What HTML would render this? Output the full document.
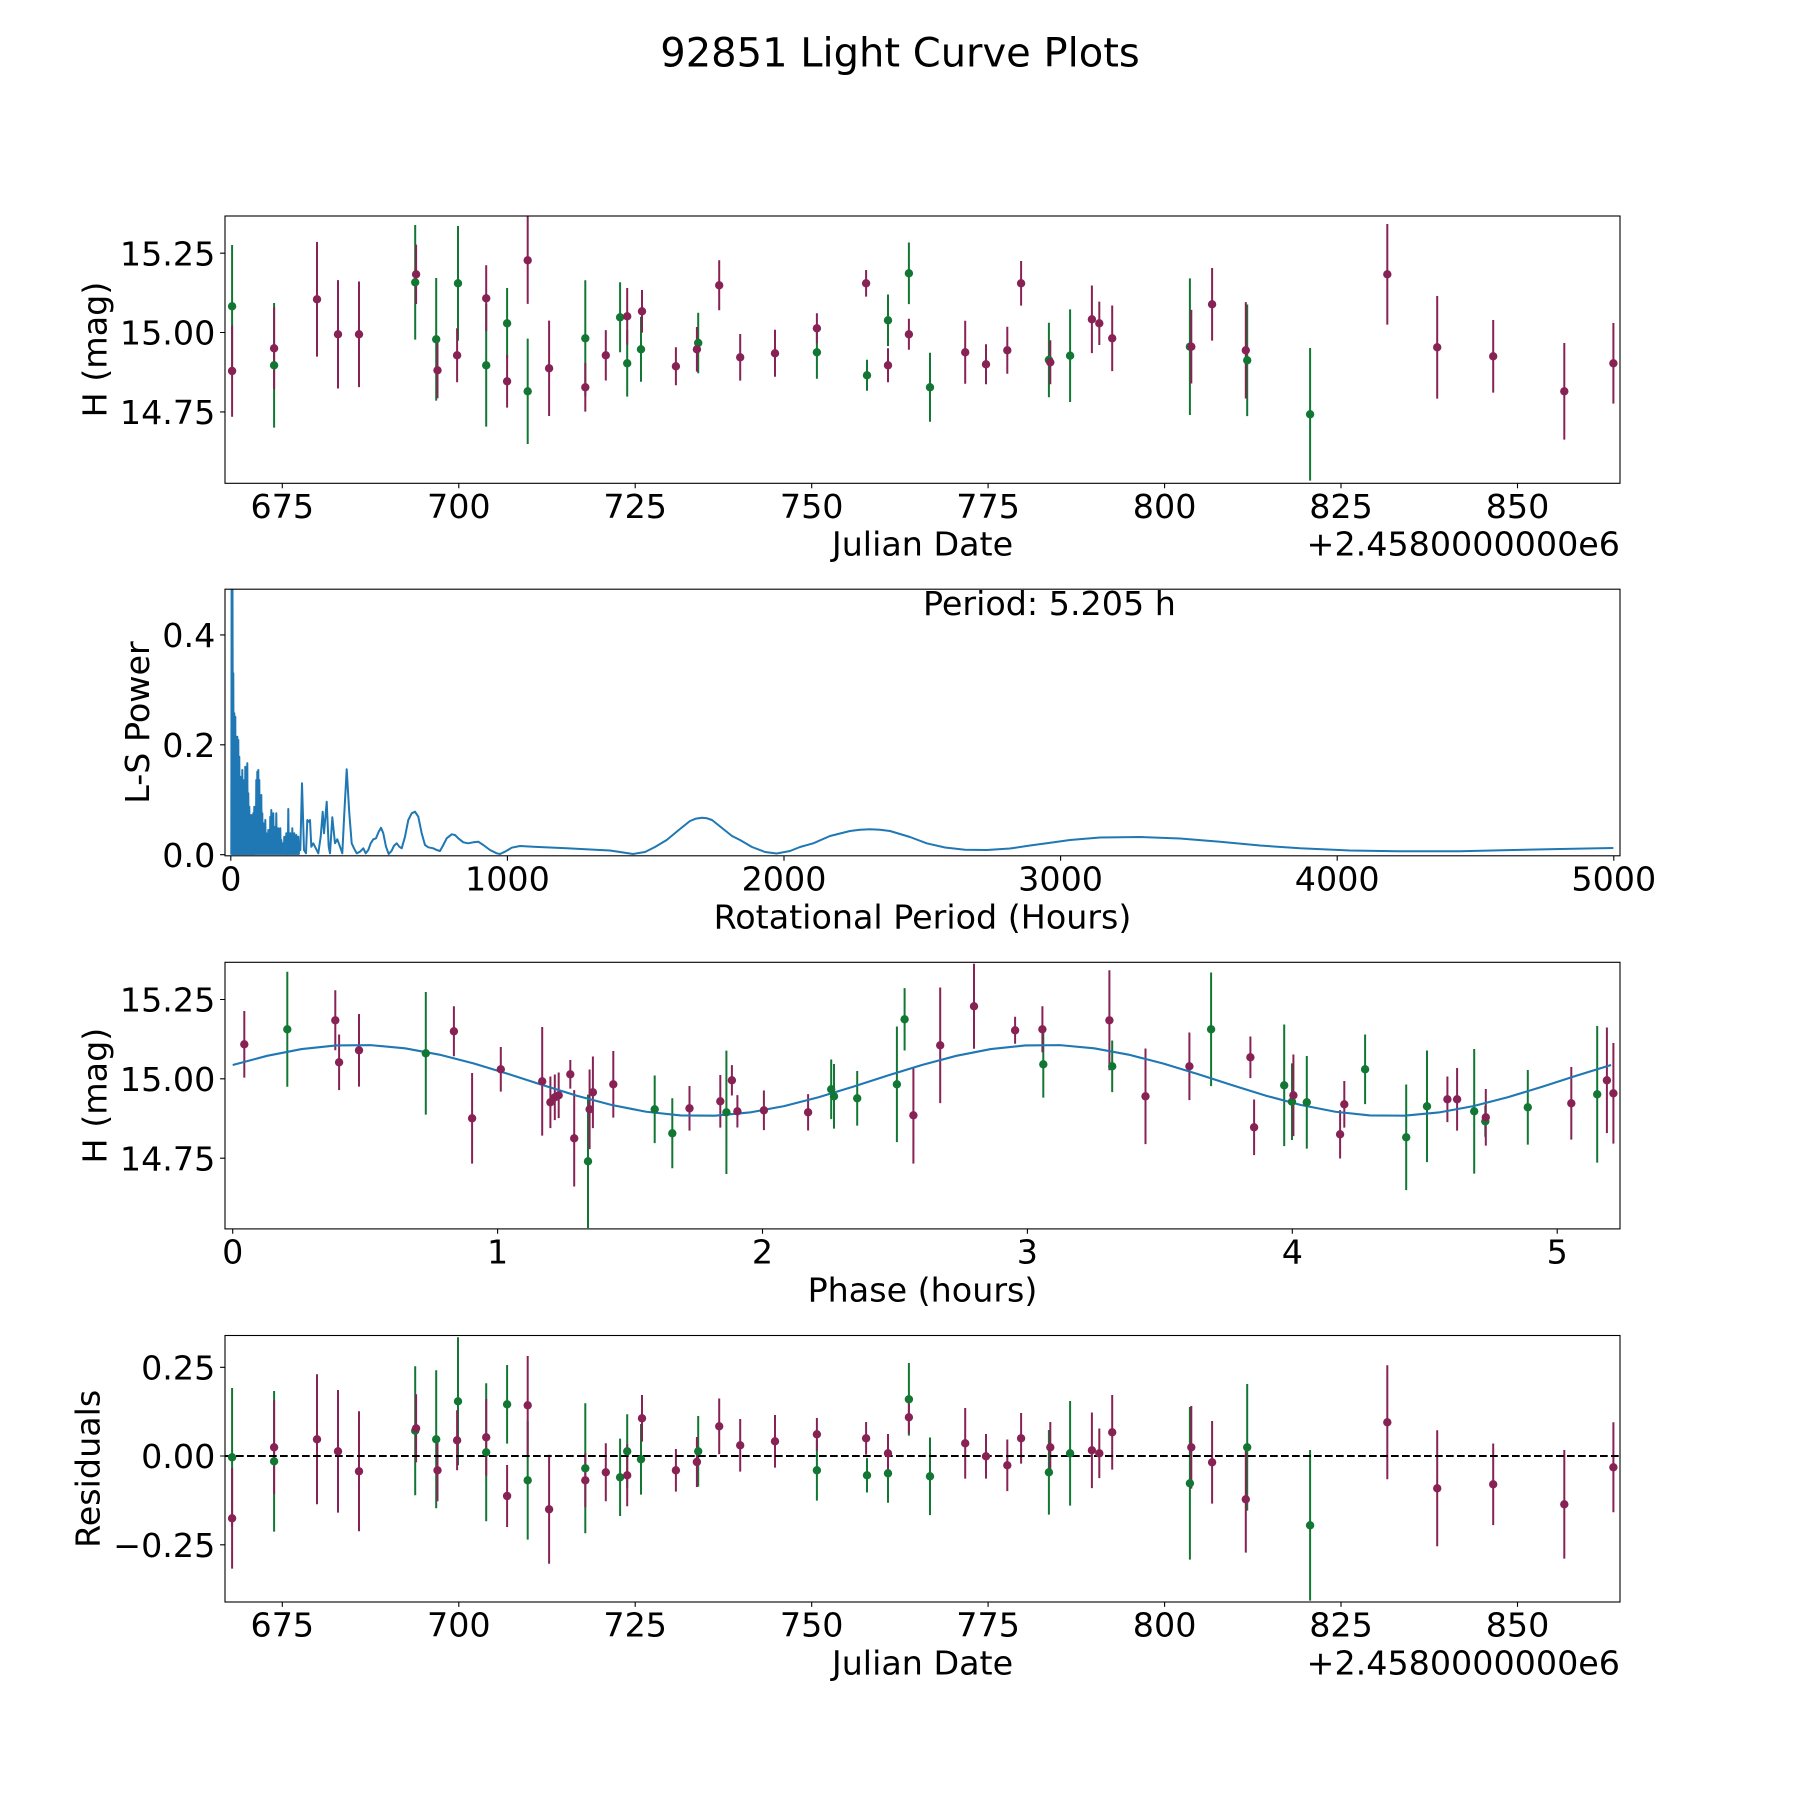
<!DOCTYPE html>
<html><head><meta charset="utf-8"><style>html,body{margin:0;padding:0;background:#fff}svg{display:block}</style></head>
<body>
<svg width="1800" height="1800" viewBox="0 0 1800 1800" xmlns="http://www.w3.org/2000/svg" font-family="'DejaVu Sans','Liberation Sans',sans-serif" fill="#000">
<rect width="1800" height="1800" fill="#fff"/>
<defs>
<clipPath id="c1"><rect x="225" y="216" width="1395" height="267.3"/></clipPath>
<clipPath id="c2"><rect x="225" y="589.2" width="1395" height="266.6"/></clipPath>
<clipPath id="c3"><rect x="225" y="962.3" width="1395" height="266.6"/></clipPath>
<clipPath id="c4"><rect x="225" y="1335.5" width="1395" height="266.5"/></clipPath>
</defs>

<text x="900" y="66.7" font-size="40" text-anchor="middle">92851 Light Curve Plots</text>

<!-- ============ AXES 1 ============ -->
<g clip-path="url(#c1)" stroke-width="2" fill="none">
<path stroke="#117733" d="M232.1,245V367.6M274.1,303V427.6M415.2,225V339.6M436.2,278V400.6M458,226V340.6M486.2,304V426.6M507.1,288V358.6M527.7,338.6V444M585.3,280.3V396.3M620.1,282.3V352.3M627.2,330V396.6M641,316.8V381.8M698.2,312.7V373.3M816.9,325.9V378.7M867,359.8V390.8M888,294.5V346.1M908.9,242.5V304.1M930,352.8V421.8M1048.9,322.7V397.3M1070.1,309.4V402M1189.9,278.4V415M1247.2,304.5V416.1M1310.1,348V480.6"/>
<path stroke="#882255" d="M232.1,325.3V416.7M274.1,307.3V389.3M317,242V356.6M338,280.1V388.5M359,281.5V387.1M416.1,244.6V304M437.5,342.3V398.3M457.1,328.3V382.3M486.2,265.3V331.3M507.1,355V407.6M527.7,214V303.9M549.1,320.6V416M585.3,363V411.6M605.8,330.1V380.5M627.2,288V344.6M642,290V332.6M675.9,347.3V385.3M696.9,327V371.6M719.2,260.3V310.3M740.2,334V380.6M775,329.8V376.8M816.9,313.3V343.3M866.1,270V296.6M888,348.3V382.3M908.9,318.8V349.8M965.2,320.8V383.8M986,344.3V384.3M1007.3,326.8V373.8M1021.1,261V305.6M1050.3,340.3V384.3M1091.9,285.5V353.1M1099.3,301.6V345M1112.2,305.5V371.1M1191.3,309.9V383.5M1212.1,268V340.6M1245.8,302.1V398.5M1387.3,224V324.6M1437.2,296V398.6M1493.2,320V392.6M1564.3,343V439.6M1613.4,323V403.6"/>
</g>
<g clip-path="url(#c1)" fill="#117733">
<circle cx="232.1" cy="306.3" r="4.2"/><circle cx="274.1" cy="365.3" r="4.2"/><circle cx="415.2" cy="282.3" r="4.2"/><circle cx="436.2" cy="339.3" r="4.2"/><circle cx="458" cy="283.3" r="4.2"/><circle cx="486.2" cy="365.3" r="4.2"/><circle cx="507.1" cy="323.3" r="4.2"/><circle cx="527.7" cy="391.3" r="4.2"/><circle cx="585.3" cy="338.3" r="4.2"/><circle cx="620.1" cy="317.3" r="4.2"/><circle cx="627.2" cy="363.3" r="4.2"/><circle cx="641" cy="349.3" r="4.2"/><circle cx="698.2" cy="343" r="4.2"/><circle cx="816.9" cy="352.3" r="4.2"/><circle cx="867" cy="375.3" r="4.2"/><circle cx="888" cy="320.3" r="4.2"/><circle cx="908.9" cy="273.3" r="4.2"/><circle cx="930" cy="387.3" r="4.2"/><circle cx="1048.9" cy="360" r="4.2"/><circle cx="1070.1" cy="355.7" r="4.2"/><circle cx="1189.9" cy="346.7" r="4.2"/><circle cx="1247.2" cy="360.3" r="4.2"/><circle cx="1310.1" cy="414.3" r="4.2"/>
</g>
<g clip-path="url(#c1)" fill="#882255">
<circle cx="232.1" cy="371" r="4.2"/><circle cx="274.1" cy="348.3" r="4.2"/><circle cx="317" cy="299.3" r="4.2"/><circle cx="338" cy="334.3" r="4.2"/><circle cx="359" cy="334.3" r="4.2"/><circle cx="416.1" cy="274.3" r="4.2"/><circle cx="437.5" cy="370.3" r="4.2"/><circle cx="457.1" cy="355.3" r="4.2"/><circle cx="486.2" cy="298.3" r="4.2"/><circle cx="507.1" cy="381.3" r="4.2"/><circle cx="527.7" cy="260.3" r="4.2"/><circle cx="549.1" cy="368.3" r="4.2"/><circle cx="585.3" cy="387.3" r="4.2"/><circle cx="605.8" cy="355.3" r="4.2"/><circle cx="627.2" cy="316.3" r="4.2"/><circle cx="642" cy="311.3" r="4.2"/><circle cx="675.9" cy="366.3" r="4.2"/><circle cx="696.9" cy="349.3" r="4.2"/><circle cx="719.2" cy="285.3" r="4.2"/><circle cx="740.2" cy="357.3" r="4.2"/><circle cx="775" cy="353.3" r="4.2"/><circle cx="816.9" cy="328.3" r="4.2"/><circle cx="866.1" cy="283.3" r="4.2"/><circle cx="888" cy="365.3" r="4.2"/><circle cx="908.9" cy="334.3" r="4.2"/><circle cx="965.2" cy="352.3" r="4.2"/><circle cx="986" cy="364.3" r="4.2"/><circle cx="1007.3" cy="350.3" r="4.2"/><circle cx="1021.1" cy="283.3" r="4.2"/><circle cx="1050.3" cy="362.3" r="4.2"/><circle cx="1091.9" cy="319.3" r="4.2"/><circle cx="1099.3" cy="323.3" r="4.2"/><circle cx="1112.2" cy="338.3" r="4.2"/><circle cx="1191.3" cy="346.7" r="4.2"/><circle cx="1212.1" cy="304.3" r="4.2"/><circle cx="1245.8" cy="350.3" r="4.2"/><circle cx="1387.3" cy="274.3" r="4.2"/><circle cx="1437.2" cy="347.3" r="4.2"/><circle cx="1493.2" cy="356.3" r="4.2"/><circle cx="1564.3" cy="391.3" r="4.2"/><circle cx="1613.4" cy="363.3" r="4.2"/>
</g>
<rect x="225" y="216" width="1395" height="267.3" fill="none" stroke="#000" stroke-width="1.1"/>
<path stroke="#000" stroke-width="1.1" d="M282.3,483.3v4.9M458.8,483.3v4.9M635.2,483.3v4.9M811.7,483.3v4.9M988.1,483.3v4.9M1164.6,483.3v4.9M1341,483.3v4.9M1517.5,483.3v4.9M225,253.2h-4.9M225,332.5h-4.9M225,411.9h-4.9"/>
<g font-size="33.33" text-anchor="middle">
<text x="282.3" y="518">675</text><text x="458.8" y="518">700</text><text x="635.2" y="518">725</text><text x="811.7" y="518">750</text><text x="988.1" y="518">775</text><text x="1164.6" y="518">800</text><text x="1341" y="518">825</text><text x="1517.5" y="518">850</text>
<text x="922.5" y="555.5">Julian Date</text>
</g>
<g font-size="33.33" text-anchor="end">
<text x="1620" y="555.5">+2.4580000000e6</text>
<text x="215.3" y="265.4">15.25</text><text x="215.3" y="344.7">15.00</text><text x="215.3" y="424.1">14.75</text>
</g>
<text font-size="33.33" text-anchor="middle" transform="translate(106.4,349.5) rotate(-90)">H (mag)</text>

<!-- ============ AXES 2 (periodogram) ============ -->
<g clip-path="url(#c2)" fill="none" stroke="#1f77b4" stroke-width="2" stroke-linejoin="round">
<path d="M231.3,854.7 L231.6,590 L232.1,854 L232.5,590 L233,854 L233.3,673.3 L233.8,854 L234.3,713.3 L234.8,854 L235.3,716.7 L235.8,854 L236.3,736.7 L236.8,854 L237.3,736.7 L237.8,854 L238.3,740 L238.8,854 L239.3,756.7 L239.8,854 L240.3,776.7 L240.8,854 L241.3,780 L241.8,854 L242.3,770 L242.8,854 L243.3,806.7 L243.8,854 L244.3,780 L244.8,854 L245.3,766.7 L245.8,854 L246.3,786.7 L246.8,854 L247.3,763.3 L247.8,854 L248.3,793.3 L248.8,854 L249.3,806.7 L249.8,854 L250.3,816.7 L250.8,854 L251.3,815 L251.8,854 L252.3,823.3 L252.8,854 L253.3,813.3 L253.8,854 L254.3,806.7 L254.8,854 L255.3,820 L255.8,854 L256.3,780 L256.8,854 L257.3,771.7 L257.8,854 L258.3,770 L258.8,854 L259.3,780 L259.8,854 L260.3,796.7 L260.8,854 L261.3,795 L261.8,854 L262.3,813.3 L262.8,854 L263.3,823.3 L263.8,854 L264.3,826.7 L264.8,854 L265.3,820 L265.8,854 L266.3,833.3 L266.8,854 L267.3,840 L267.8,854 L268.3,830 L268.8,854 L269.3,836.7 L269.8,854 L270.3,816.7 L270.8,854 L271.3,810 L271.8,854 L272.3,820 L272.8,854 L273.3,813.3 L273.8,854 L274.3,826.7 L274.8,854 L275.3,836.7 L275.8,854 L276.3,813.3 L276.8,854 L277.3,833.3 L277.8,854 L278.3,828.3 L278.8,854 L279.3,840 L279.8,854 L280.3,828.3 L280.8,854 L281.3,840 L281.8,854 L282.3,843.3 L282.8,854 L283.3,843.3 L283.8,854 L284.3,836.7 L284.8,854 L285.3,836.7 L285.8,854 L286.3,833.3 L286.8,854 L287.3,846.7 L287.8,854 L288.3,809 L288.8,854 L289.3,833.3 L289.8,854 L290.3,833.3 L290.8,854 L291.3,835 L291.8,854 L292.3,828.3 L292.8,854 L293.3,836.7 L293.8,854 L294.3,833.3 L294.8,854 L295.3,836.7 L295.8,854 L296.3,835 L296.8,854 L297.3,836.7 L297.8,854 L298.3,836.7 L298.8,854 L299.3,846.7 L300.3,850 L302,783.3 L304,850 L306,853.3 L307.3,820 L308.7,821.7 L310,820 L311.3,846.7 L313.3,843.3 L315,846.7 L318.3,853.3 L320.7,836.7 L322.7,811.7 L324,833.3 L326.7,801.7 L328.7,846.7 L330,853.3 L332.3,817.3 L335,843.3 L337.3,839.3 L340,846.7 L342.3,853.3 L344.3,813.3 L346.7,769.3 L349.3,813.3 L351.7,843.3 L354,848.3 L356.7,853.3 L360,851.7 L363.3,848.3 L365.7,853.3 L368.3,850 L370.7,843.3 L373.3,839.3 L376,838.3 L378.7,831.7 L381,827.7 L383.3,833.3 L386,846.7 L388.7,854 L391.7,850.7 L394,845.7 L396.7,843.3 L399.3,846.7 L401.7,848.3 L405,836.7 L408.3,820 L411.7,813.3 L415,811.7 L418.3,816.7 L421.7,833.3 L425,845 L428.3,847.3 L433.3,848.3 L436.7,850 L440,851 L443.3,845 L446.7,838.3 L451.7,834.3 L455,835 L458.3,838.3 L463.3,842.3 L468.3,843.3 L473.3,842.3 L478.3,841.7 L483.3,845 L490,850 L496.7,853.3 L500,854 L505,851.7 L511.7,847.7 L520,846 L533.3,846.7 L566.7,848.3 L600,850 L610,850.5 L620,852 L633,854 L645,852 L655,847 L666.7,840 L680,829 L690,821 L696,818.6 L702,817.7 L707,818.3 L712,820 L722,828 L732,836 L740,840 L752,847 L765,852 L776.7,853.5 L790,851 L800,847 L813.3,843.3 L830,836 L850,831 L860,829.8 L870,829.3 L880,829.8 L890,831 L910,837 L926.7,843.3 L945,847.5 L965,849.7 L986.7,850 L1010,848.5 L1030,845.5 L1046.7,843.3 L1070,840 L1100,837.5 L1140,837 L1180,838.5 L1220,841.7 L1260,845.5 L1300,848.3 L1350,850.5 L1400,851.3 L1460,851.2 L1513.3,850 L1560,849 L1613.3,848"/>
</g>
<rect x="225" y="589.2" width="1395" height="266.6" fill="none" stroke="#000" stroke-width="1.1"/>
<path stroke="#000" stroke-width="1.1" d="M230.8,855.8v4.9M507.4,855.8v4.9M784,855.8v4.9M1060.6,855.8v4.9M1337.2,855.8v4.9M1613.8,855.8v4.9M225,854.7h-4.9M225,744.8h-4.9M225,634.9h-4.9"/>
<g font-size="33.33" text-anchor="middle">
<text x="230.8" y="890.5">0</text><text x="507.4" y="890.5">1000</text><text x="784" y="890.5">2000</text><text x="1060.6" y="890.5">3000</text><text x="1337.2" y="890.5">4000</text><text x="1613.8" y="890.5">5000</text>
<text x="922.5" y="928.3">Rotational Period (Hours)</text>
</g>
<g font-size="33.33" text-anchor="end">
<text x="215.3" y="866.9">0.0</text><text x="215.3" y="757">0.2</text><text x="215.3" y="647.1">0.4</text>
</g>
<text x="923" y="615" font-size="33.33">Period: 5.205 h</text>
<text font-size="33.33" text-anchor="middle" transform="translate(149,722.5) rotate(-90)">L-S Power</text>

<!-- ============ AXES 3 (phase) ============ -->
<g clip-path="url(#c3)" stroke-width="2" fill="none">
<path stroke="#117733" d="M287.3,971.8V1086.8M425.8,992V1114.6M588,1094.6V1228M654.7,1075.5V1143.1M672.3,1098.3V1168.3M726.4,1050.6V1174M831.2,1059.5V1119.1M834,1064V1128.6M857.2,1071V1125.6M896.9,1026.5V1142.1M904.6,988.1V1050.5M1043.3,1031V1097.6M1112.2,1040.5V1092.1M1211.1,972.5V1086.1M1284.2,1024.5V1146.1M1292,1063.4V1140M1306.8,1056V1148.6M1365.1,1034.5V1104.1M1406.2,1084.5V1190.1M1427,1050.5V1162.1M1474.2,1049V1173.6M1485.3,1105.8V1136.8M1527.8,1070V1144.6M1597.2,1026V1162.6"/>
<path stroke="#882255" d="M244.3,1011V1077.6M335.3,990.3V1050.3M339.1,1034.5V1090.1M359,1014V1086.6M453.9,1006.3V1056.3M472.1,1073V1163.6M500.8,1047V1091.6M542.2,1027V1135.6M550.4,1076.5V1128.1M554.8,1074.5V1120.1M558.7,1072.5V1118.1M570.3,1060V1088.6M574.2,1090.1V1186.5M589.6,1069.5V1149.1M592.9,1056.5V1128.1M613.3,1051V1117.6M689.5,1086V1130.6M720.3,1075V1127.6M731.9,1065.1V1095.5M737.4,1095.1V1127.5M763.9,1090.5V1130.1M808.1,1094.1V1130.5M913.4,1067V1163.6M940.2,987.5V1103.1M974,963.8V1048.8M1015.1,1016.8V1043.8M1042.4,1006.3V1052.3M1109.4,970.3V1070.3M1145.5,1048.5V1144.1M1189.4,1032.5V1100.1M1250.4,1036.5V1078.1M1254.1,1099.5V1155.1M1293.4,1054.5V1136.1M1340.1,1110.1V1158.5M1344.3,1081V1127.6M1447.4,1076.5V1122.1M1457.1,1068V1130.6M1485.8,1089V1145.6M1571.3,1067V1139.6M1606.9,1027.5V1133.1M1613.4,1043V1143.6"/>
<polyline stroke="#1f77b4" stroke-width="2.1" stroke-linejoin="round" points="232.7,1064.96 267.16,1055.8 301.62,1049.05 336.08,1045.4 370.54,1045.12 405,1048.32 439.46,1054.66 473.92,1063.52 508.38,1074.03 542.84,1085.17 577.3,1095.84 611.76,1105 646.22,1111.75 680.68,1115.43 715.14,1115.68 749.6,1112.48 784.06,1106.14 818.52,1097.28 852.98,1086.77 887.44,1075.63 921.9,1064.96 956.36,1055.8 990.82,1049.05 1025.28,1045.4 1059.74,1045.12 1094.2,1048.32 1128.66,1054.66 1163.12,1063.52 1197.58,1074.03 1232.04,1085.17 1266.5,1095.84 1300.96,1105 1335.42,1111.75 1369.88,1115.43 1404.34,1115.68 1438.8,1112.48 1473.26,1106.14 1507.72,1097.28 1542.18,1086.77 1576.64,1075.63 1611.1,1064.96"/>
</g>
<g clip-path="url(#c3)" fill="#117733">
<circle cx="287.3" cy="1029.3" r="4.2"/><circle cx="425.8" cy="1053.3" r="4.2"/><circle cx="588" cy="1161.3" r="4.2"/><circle cx="654.7" cy="1109.3" r="4.2"/><circle cx="672.3" cy="1133.3" r="4.2"/><circle cx="726.4" cy="1112.3" r="4.2"/><circle cx="831.2" cy="1089.3" r="4.2"/><circle cx="834" cy="1096.3" r="4.2"/><circle cx="857.2" cy="1098.3" r="4.2"/><circle cx="896.9" cy="1084.3" r="4.2"/><circle cx="904.6" cy="1019.3" r="4.2"/><circle cx="1043.3" cy="1064.3" r="4.2"/><circle cx="1112.2" cy="1066.3" r="4.2"/><circle cx="1211.1" cy="1029.3" r="4.2"/><circle cx="1284.2" cy="1085.3" r="4.2"/><circle cx="1292" cy="1101.7" r="4.2"/><circle cx="1306.8" cy="1102.3" r="4.2"/><circle cx="1365.1" cy="1069.3" r="4.2"/><circle cx="1406.2" cy="1137.3" r="4.2"/><circle cx="1427" cy="1106.3" r="4.2"/><circle cx="1474.2" cy="1111.3" r="4.2"/><circle cx="1485.3" cy="1121.3" r="4.2"/><circle cx="1527.8" cy="1107.3" r="4.2"/><circle cx="1597.2" cy="1094.3" r="4.2"/>
</g>
<g clip-path="url(#c3)" fill="#882255">
<circle cx="244.3" cy="1044.3" r="4.2"/><circle cx="335.3" cy="1020.3" r="4.2"/><circle cx="339.1" cy="1062.3" r="4.2"/><circle cx="359" cy="1050.3" r="4.2"/><circle cx="453.9" cy="1031.3" r="4.2"/><circle cx="472.1" cy="1118.3" r="4.2"/><circle cx="500.8" cy="1069.3" r="4.2"/><circle cx="542.2" cy="1081.3" r="4.2"/><circle cx="550.4" cy="1102.3" r="4.2"/><circle cx="554.8" cy="1097.3" r="4.2"/><circle cx="558.7" cy="1095.3" r="4.2"/><circle cx="570.3" cy="1074.3" r="4.2"/><circle cx="574.2" cy="1138.3" r="4.2"/><circle cx="589.6" cy="1109.3" r="4.2"/><circle cx="592.9" cy="1092.3" r="4.2"/><circle cx="613.3" cy="1084.3" r="4.2"/><circle cx="689.5" cy="1108.3" r="4.2"/><circle cx="720.3" cy="1101.3" r="4.2"/><circle cx="731.9" cy="1080.3" r="4.2"/><circle cx="737.4" cy="1111.3" r="4.2"/><circle cx="763.9" cy="1110.3" r="4.2"/><circle cx="808.1" cy="1112.3" r="4.2"/><circle cx="913.4" cy="1115.3" r="4.2"/><circle cx="940.2" cy="1045.3" r="4.2"/><circle cx="974" cy="1006.3" r="4.2"/><circle cx="1015.1" cy="1030.3" r="4.2"/><circle cx="1042.4" cy="1029.3" r="4.2"/><circle cx="1109.4" cy="1020.3" r="4.2"/><circle cx="1145.5" cy="1096.3" r="4.2"/><circle cx="1189.4" cy="1066.3" r="4.2"/><circle cx="1250.4" cy="1057.3" r="4.2"/><circle cx="1254.1" cy="1127.3" r="4.2"/><circle cx="1293.4" cy="1095.3" r="4.2"/><circle cx="1340.1" cy="1134.3" r="4.2"/><circle cx="1344.3" cy="1104.3" r="4.2"/><circle cx="1447.4" cy="1099.3" r="4.2"/><circle cx="1457.1" cy="1099.3" r="4.2"/><circle cx="1485.8" cy="1117.3" r="4.2"/><circle cx="1571.3" cy="1103.3" r="4.2"/><circle cx="1606.9" cy="1080.3" r="4.2"/><circle cx="1613.4" cy="1093.3" r="4.2"/>
</g>
<rect x="225" y="962.3" width="1395" height="266.6" fill="none" stroke="#000" stroke-width="1.1"/>
<path stroke="#000" stroke-width="1.1" d="M232.7,1228.9v4.9M497.6,1228.9v4.9M762.5,1228.9v4.9M1027.4,1228.9v4.9M1292.3,1228.9v4.9M1557.2,1228.9v4.9M225,999.5h-4.9M225,1078.8h-4.9M225,1158.2h-4.9"/>
<g font-size="33.33" text-anchor="middle">
<text x="232.7" y="1263.6">0</text><text x="497.6" y="1263.6">1</text><text x="762.5" y="1263.6">2</text><text x="1027.4" y="1263.6">3</text><text x="1292.3" y="1263.6">4</text><text x="1557.2" y="1263.6">5</text>
<text x="922.5" y="1301.4">Phase (hours)</text>
</g>
<g font-size="33.33" text-anchor="end">
<text x="215.3" y="1011.7">15.25</text><text x="215.3" y="1091">15.00</text><text x="215.3" y="1170.4">14.75</text>
</g>
<text font-size="33.33" text-anchor="middle" transform="translate(106.4,1095.6) rotate(-90)">H (mag)</text>

<!-- ============ AXES 4 (residuals) ============ -->
<g clip-path="url(#c4)" stroke-width="2" fill="none">
<path stroke="#117733" d="M232.1,1388V1526.6M274.1,1391V1531.6M415.2,1366.2V1495.2M436.2,1370.3V1508.3M458,1337.3V1465.3M486.2,1383.3V1521.3M507.1,1365V1443.6M527.7,1421V1539.6M585.3,1403.3V1533.3M620.1,1438.6V1516M627.2,1414.3V1488.3M641,1424V1494.6M698.2,1416V1486.6M816.9,1440V1500.6M867,1458.1V1492.5M888,1443.9V1502.7M908.9,1363V1435.6M930,1437.5V1515.1M1048.9,1430V1514.6M1070.1,1401V1505.6M1189.9,1407V1559.6M1247.2,1384V1510.6M1310.1,1450V1600.6"/>
<path stroke="#882255" d="M232.1,1468V1568.6M274.1,1400.3V1494.3M317,1374.3V1504.3M338,1390V1512.6M359,1411.3V1531.3M416.1,1394.3V1462.3M437.5,1439.3V1501.3M457.1,1410.3V1470.3M486.2,1399V1475.6M507.1,1465V1527M527.7,1356V1454.6M549.1,1454.8V1563.8M585.3,1453.3V1507.3M605.8,1443.3V1501.3M627.2,1444.3V1506.3M642,1395V1441.6M675.9,1449V1491.6M696.9,1437V1487M719.2,1398.5V1454.1M740.2,1419V1471.6M775,1415V1467.6M816.9,1418V1450.6M866.1,1422V1454.6M888,1434V1472.6M908.9,1401V1433.6M965.2,1408V1478.6M986,1434V1478.6M1007.3,1439.5V1491.1M1021.1,1413V1463.6M1050.3,1422V1472.6M1091.9,1412.5V1488.1M1099.3,1428.5V1478.1M1112.2,1395V1469.6M1191.3,1406V1488.6M1212.1,1421V1503.6M1245.8,1446V1552.6M1387.3,1365.3V1479.3M1437.2,1430.3V1546.3M1493.2,1443.5V1525.1M1564.3,1450V1558.6M1613.4,1422.3V1512.3"/>
<line x1="225" y1="1456" x2="1620" y2="1456" stroke="#000" stroke-width="2" stroke-dasharray="7.7 3.3"/>
</g>
<g clip-path="url(#c4)" fill="#117733">
<circle cx="232.1" cy="1457.3" r="4.2"/><circle cx="274.1" cy="1461.3" r="4.2"/><circle cx="415.2" cy="1430.7" r="4.2"/><circle cx="436.2" cy="1439.3" r="4.2"/><circle cx="458" cy="1401.3" r="4.2"/><circle cx="486.2" cy="1452.3" r="4.2"/><circle cx="507.1" cy="1404.3" r="4.2"/><circle cx="527.7" cy="1480.3" r="4.2"/><circle cx="585.3" cy="1468.3" r="4.2"/><circle cx="620.1" cy="1477.3" r="4.2"/><circle cx="627.2" cy="1451.3" r="4.2"/><circle cx="641" cy="1459.3" r="4.2"/><circle cx="698.2" cy="1451.3" r="4.2"/><circle cx="816.9" cy="1470.3" r="4.2"/><circle cx="867" cy="1475.3" r="4.2"/><circle cx="888" cy="1473.3" r="4.2"/><circle cx="908.9" cy="1399.3" r="4.2"/><circle cx="930" cy="1476.3" r="4.2"/><circle cx="1048.9" cy="1472.3" r="4.2"/><circle cx="1070.1" cy="1453.3" r="4.2"/><circle cx="1189.9" cy="1483.3" r="4.2"/><circle cx="1247.2" cy="1447.3" r="4.2"/><circle cx="1310.1" cy="1525.3" r="4.2"/>
</g>
<g clip-path="url(#c4)" fill="#882255">
<circle cx="232.1" cy="1518.3" r="4.2"/><circle cx="274.1" cy="1447.3" r="4.2"/><circle cx="317" cy="1439.3" r="4.2"/><circle cx="338" cy="1451.3" r="4.2"/><circle cx="359" cy="1471.3" r="4.2"/><circle cx="416.1" cy="1428.3" r="4.2"/><circle cx="437.5" cy="1470.3" r="4.2"/><circle cx="457.1" cy="1440.3" r="4.2"/><circle cx="486.2" cy="1437.3" r="4.2"/><circle cx="507.1" cy="1496" r="4.2"/><circle cx="527.7" cy="1405.3" r="4.2"/><circle cx="549.1" cy="1509.3" r="4.2"/><circle cx="585.3" cy="1480.3" r="4.2"/><circle cx="605.8" cy="1472.3" r="4.2"/><circle cx="627.2" cy="1475.3" r="4.2"/><circle cx="642" cy="1418.3" r="4.2"/><circle cx="675.9" cy="1470.3" r="4.2"/><circle cx="696.9" cy="1462" r="4.2"/><circle cx="719.2" cy="1426.3" r="4.2"/><circle cx="740.2" cy="1445.3" r="4.2"/><circle cx="775" cy="1441.3" r="4.2"/><circle cx="816.9" cy="1434.3" r="4.2"/><circle cx="866.1" cy="1438.3" r="4.2"/><circle cx="888" cy="1453.3" r="4.2"/><circle cx="908.9" cy="1417.3" r="4.2"/><circle cx="965.2" cy="1443.3" r="4.2"/><circle cx="986" cy="1456.3" r="4.2"/><circle cx="1007.3" cy="1465.3" r="4.2"/><circle cx="1021.1" cy="1438.3" r="4.2"/><circle cx="1050.3" cy="1447.3" r="4.2"/><circle cx="1091.9" cy="1450.3" r="4.2"/><circle cx="1099.3" cy="1453.3" r="4.2"/><circle cx="1112.2" cy="1432.3" r="4.2"/><circle cx="1191.3" cy="1447.3" r="4.2"/><circle cx="1212.1" cy="1462.3" r="4.2"/><circle cx="1245.8" cy="1499.3" r="4.2"/><circle cx="1387.3" cy="1422.3" r="4.2"/><circle cx="1437.2" cy="1488.3" r="4.2"/><circle cx="1493.2" cy="1484.3" r="4.2"/><circle cx="1564.3" cy="1504.3" r="4.2"/><circle cx="1613.4" cy="1467.3" r="4.2"/>
</g>
<rect x="225" y="1335.5" width="1395" height="266.5" fill="none" stroke="#000" stroke-width="1.1"/>
<path stroke="#000" stroke-width="1.1" d="M282.3,1602v4.9M458.8,1602v4.9M635.2,1602v4.9M811.7,1602v4.9M988.1,1602v4.9M1164.6,1602v4.9M1341,1602v4.9M1517.5,1602v4.9M225,1367.3h-4.9M225,1456h-4.9M225,1544.8h-4.9"/>
<g font-size="33.33" text-anchor="middle">
<text x="282.3" y="1636.7">675</text><text x="458.8" y="1636.7">700</text><text x="635.2" y="1636.7">725</text><text x="811.7" y="1636.7">750</text><text x="988.1" y="1636.7">775</text><text x="1164.6" y="1636.7">800</text><text x="1341" y="1636.7">825</text><text x="1517.5" y="1636.7">850</text>
<text x="922.5" y="1674.5">Julian Date</text>
</g>
<g font-size="33.33" text-anchor="end">
<text x="1620" y="1674.5">+2.4580000000e6</text>
<text x="215.3" y="1379.5">0.25</text><text x="215.3" y="1468.2">0.00</text><text x="215.3" y="1557">−0.25</text>
</g>
<text font-size="33.33" text-anchor="middle" transform="translate(99.7,1468.8) rotate(-90)">Residuals</text>
</svg>
</body></html>
